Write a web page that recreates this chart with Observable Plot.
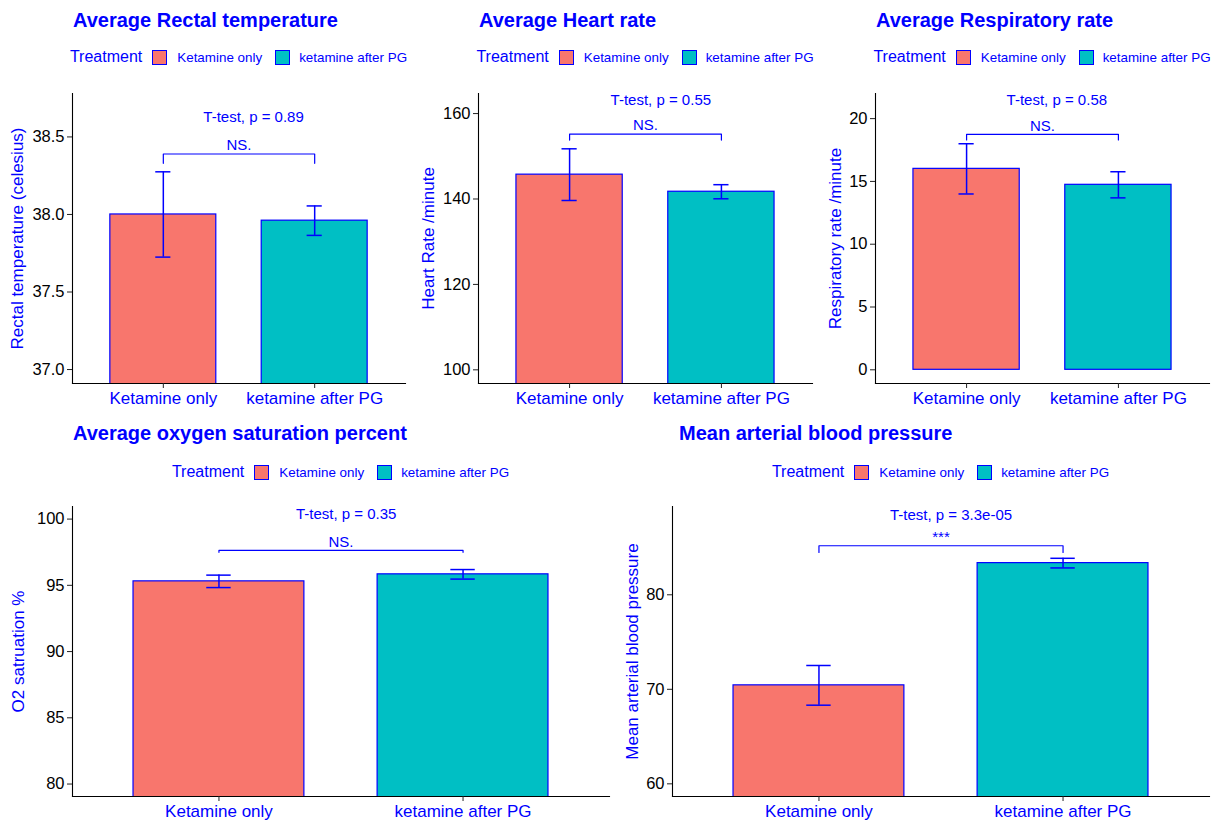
<!DOCTYPE html>
<html>
<head>
<meta charset="utf-8">
<script src="https://cdn.jsdelivr.net/npm/d3@7"></script>
<script src="https://cdn.jsdelivr.net/npm/@observablehq/plot@0.6"></script>
<style>
  body { margin: 0; background: #ffffff; }
  #root { position: relative; width: 1218px; height: 822px; overflow: hidden; background: #ffffff;
          font-family: "Liberation Sans", Arial, Helvetica, sans-serif; }
  .chart { position: absolute; }
  .title { position: absolute; font-weight: bold; font-size: 20px; line-height: 20px; color: #0000ff; white-space: nowrap; }
  .legend { position: absolute; display: flex; align-items: center; justify-content: center; color: #0000ff;
            white-space: nowrap; height: 20px; }
  .legend .lt { font-size: 16px; margin-right: 10px; }
  .legend .key { width: 15px; height: 15px; box-sizing: border-box; border: 1.5px solid #0000ff; }
  .legend .ll { font-size: 13.4px; margin-left: 10px; }
  .legend .ll.first { margin-right: 13px; }
  .legend .ll.second { margin-left: 9px; }
</style>
</head>
<body>
<div id="root"></div>
<script>
// ---------------- data ----------------
const treatments = ["Ketamine only", "ketamine after PG"];
const legendTitle = "Treatment";
const fillColors = ["#F8766D", "#00BFC4"];

const panelTitles = [
  "Average Rectal temperature",
  "Average Heart rate",
  "Average Respiratory rate",
  "Average oxygen saturation percent",
  "Mean arterial blood pressure"
];
const yTitles = [
  "Rectal temperature (celesius)",
  "Heart Rate /minute",
  "Respiratory rate /minute",
  "O2 satruation %",
  "Mean arterial blood pressure"
];

const rectalMean = [38.0, 37.96];
const rectalErr = [0.275, 0.095];
const heartMean = [145.7, 141.7];
const heartErr = [6.05, 1.65];
const respMean = [16.0, 14.73];
const respErr = [2.0, 1.04];
const o2Mean = [95.3, 95.83];
const o2Err = [0.47, 0.36];
const mapMean = [70.42, 83.35];
const mapErr = [2.1, 0.51];

const pLabels = ["T-test, p = 0.89", "T-test, p = 0.55", "T-test, p = 0.58", "T-test, p = 0.35", "T-test, p = 3.3e-05"];
const sigLabels = ["NS.", "NS.", "NS.", "NS.", "***"];
const pLabelY = [38.63, 163.1, 21.45, 100.34, 88.47];
const bracketY = [38.39, 155.2, 18.75, 97.64, 85.19];
const bracketTip = [0.06, 1.4, 0.45, 0.15, 0.71];

const yDomains = [[36.91, 38.78], [96.8, 164.7], [-1.09, 22.0], [79.06, 100.95], [58.66, 89.34]];
const yTicks = [[37.0, 37.5, 38.0, 38.5], [100, 120, 140, 160], [0, 5, 10, 15, 20], [80, 85, 90, 95, 100], [60, 70, 80]];
const yTickFormats = [".1f", "d", "d", "d", "d"];

const meanArrays = [rectalMean, heartMean, respMean, o2Mean, mapMean];
const errArrays = [rectalErr, heartErr, respErr, o2Err, mapErr];

// ---------------- layout ----------------
const FONT = '"Liberation Sans", Arial, Helvetica, sans-serif';
const BLUE = "#0000ff";
const layout = [
  {left: 0,   top: 75,  width: 406, height: 335, ml: 72, mr: 1, mt: 18, mb: 27, titleX: 73,  titleY: 20,  legendY: 57,  yTitleOff: 55, pDx: 40},
  {left: 406, top: 75,  width: 406, height: 335, ml: 72, mr: 0, mt: 18, mb: 27, titleX: 479, titleY: 20,  legendY: 57,  yTitleOff: 50, pDx: 41},
  {left: 812, top: 75,  width: 406, height: 335, ml: 63, mr: 9, mt: 18, mb: 27, titleX: 876, titleY: 20,  legendY: 57,  yTitleOff: 40, pDx: 40},
  {left: 0,   top: 488, width: 609, height: 334, ml: 72, mr: 0, mt: 18, mb: 26, titleX: 73,  titleY: 433, legendY: 472, yTitleOff: 54, pDx: 77},
  {left: 609, top: 488, width: 609, height: 334, ml: 63, mr: 9, mt: 18, mb: 26, titleX: 679, titleY: 433, legendY: 472, yTitleOff: 40, pDx: 71}
];

const root = document.getElementById("root");

function addTitle(i) {
  const L = layout[i];
  const d = document.createElement("div");
  d.className = "title";
  d.textContent = panelTitles[i];
  d.style.left = L.titleX + "px";
  d.style.top = (L.titleY - 10) + "px";
  root.appendChild(d);
}

function addLegend(i) {
  const L = layout[i];
  const d = document.createElement("div");
  d.className = "legend";
  const plotLeft = L.left + L.ml;
  const plotW = L.width - L.ml - L.mr;
  d.style.left = (plotLeft - 40) + "px";
  d.style.width = (plotW + 80) + "px";
  d.style.top = (L.legendY - 10) + "px";
  const t = document.createElement("span");
  t.className = "lt";
  t.textContent = legendTitle;
  d.appendChild(t);
  treatments.forEach((name, j) => {
    const k = document.createElement("span");
    k.className = "key";
    k.style.background = fillColors[j];
    d.appendChild(k);
    const l = document.createElement("span");
    l.className = "ll " + (j === 0 ? "first" : "second");
    l.textContent = name;
    d.appendChild(l);
  });
  root.appendChild(d);
}

function addChart(i) {
  const L = layout[i];
  const means = meanArrays[i], errs = errArrays[i];
  const rows = treatments.map((t, j) => ({treatment: t, mean: means[j], lo: means[j] - errs[j], hi: means[j] + errs[j]}));
  const plotW = L.width - L.ml - L.mr;
  const step = plotW / (treatments.length - 0.3 + 2 * 0.25);
  const capInset = step * 0.3;
  const br = bracketY[i], tip = bracketTip[i];
  const bracket = [
    {x: treatments[0], y: br - tip},
    {x: treatments[0], y: br},
    {x: treatments[1], y: br},
    {x: treatments[1], y: br - tip}
  ];
  const chart = Plot.plot({
    width: L.width,
    height: L.height,
    marginLeft: L.ml,
    marginRight: L.mr,
    marginTop: L.mt,
    marginBottom: L.mb,
    style: {fontFamily: FONT, background: "transparent", overflow: "visible"},
    x: {type: "band", domain: treatments, paddingInner: 0.3, paddingOuter: 0.25, round: false, axis: null, label: null},
    y: {domain: yDomains[i], axis: null, label: null},
    color: {domain: treatments, range: fillColors},
    marks: [
      Plot.barY(rows, {x: "treatment", y: "mean", fill: "treatment", stroke: BLUE, strokeWidth: 1.2, clip: true}),
      Plot.ruleX(rows, {x: "treatment", y1: "lo", y2: "hi", stroke: BLUE, strokeWidth: 1.5}),
      Plot.tickY(rows, {x: "treatment", y: "hi", stroke: BLUE, strokeWidth: 1.5, insetLeft: capInset, insetRight: capInset}),
      Plot.tickY(rows, {x: "treatment", y: "lo", stroke: BLUE, strokeWidth: 1.5, insetLeft: capInset, insetRight: capInset}),
      Plot.line(bracket, {x: "x", y: "y", stroke: BLUE, strokeWidth: 1.2}),
      Plot.text([sigLabels[i]], {y: () => br, text: (d) => d, frameAnchor: "middle", dy: -8.5, fill: BLUE, fontSize: 15}),
      Plot.text([pLabels[i]], {x: () => treatments[0], y: () => pLabelY[i], text: (d) => d, textAnchor: "start", dx: L.pDx, fill: BLUE, fontSize: 15}),
      Plot.frame({anchor: "left", stroke: "black", strokeWidth: 1.1}),
      Plot.frame({anchor: "bottom", stroke: "black", strokeWidth: 1.1}),
      Plot.axisY({ticks: yTicks[i], tickFormat: d3.format(yTickFormats[i]), tickSize: 5, tickPadding: 3, fontSize: 16.5, stroke: "#222", fill: "black", label: null}),
      Plot.axisX({tickSize: 5, tickPadding: 3, fontSize: 17, stroke: "#222", fill: BLUE, label: null}),
      Plot.text([yTitles[i]], {frameAnchor: "left", text: (d) => d, rotate: -90, dx: -L.yTitleOff, fill: BLUE, fontSize: 17, textAnchor: "middle", lineAnchor: "middle"})
    ]
  });
  const wrap = document.createElement("div");
  wrap.className = "chart";
  wrap.style.left = L.left + "px";
  wrap.style.top = L.top + "px";
  wrap.appendChild(chart);
  root.appendChild(wrap);
}

for (let i = 0; i < panelTitles.length; i++) {
  addChart(i);
  addTitle(i);
  addLegend(i);
}
</script>
</body>
</html>
